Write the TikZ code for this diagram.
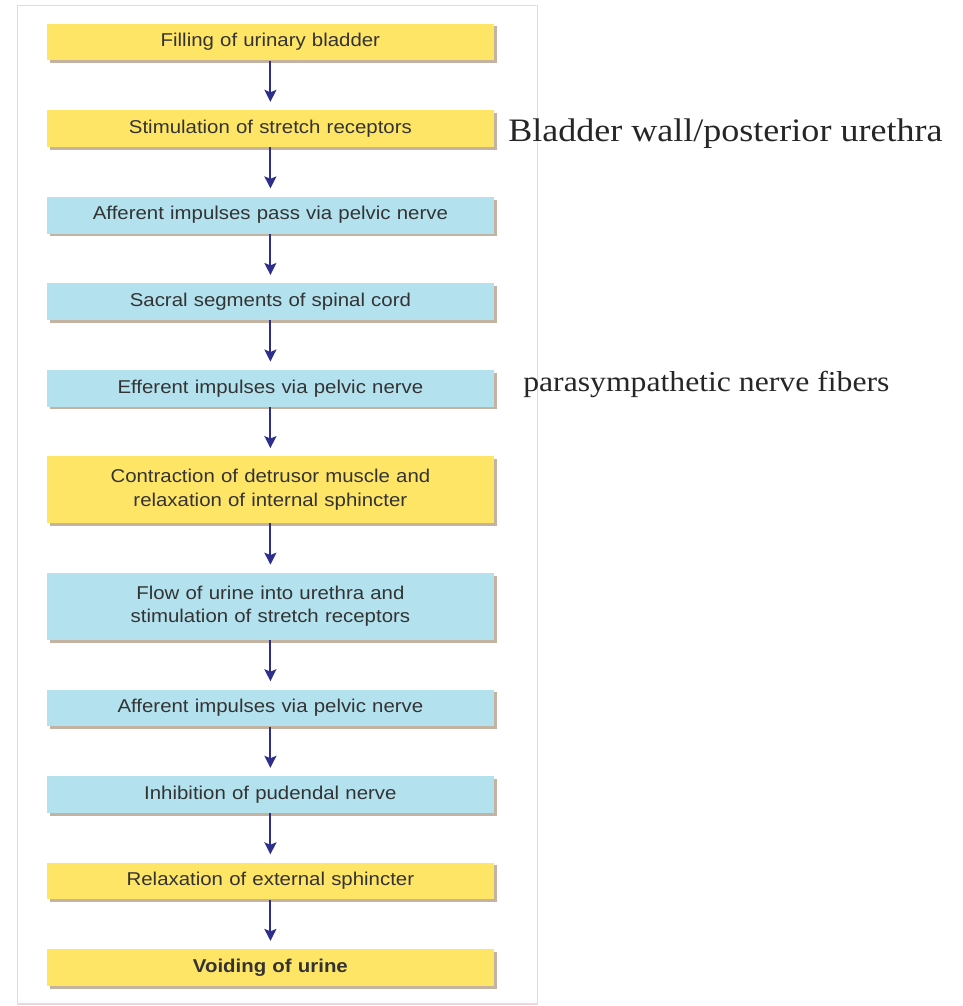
\documentclass[tikz,border=0pt]{standalone}
\usepackage{fontspec}
\setmainfont{Liberation Sans}
\newfontfamily\boxfont[FakeStretch=1.1]{Liberation Sans}
\newfontfamily\notefont[FakeStretch=1.1]{Liberation Serif}
\usetikzlibrary{
  positioning,
  arrows.meta,
  shadows
}
\definecolor{boxyellow}{HTML}{FFE566}
\definecolor{boxblue}{HTML}{B3E2EE}
\definecolor{arrowblue}{HTML}{2E2F8C}
\definecolor{framepink}{HTML}{F0D6DA}
\tikzset{
  node distance=1.23cm,
  stage/.style={minimum width=11.175cm, minimum height=0.92cm, text width=10.6cm,
    align=center, inner sep=0pt, text=black!80,
    font=\boxfont\fontsize{13.2}{16.7}\selectfont,
    drop shadow={shadow xshift=0.07cm, shadow yshift=-0.07cm, fill=brown!45!gray, opacity=0.6}},
  yellowbox/.style={stage, fill=boxyellow},
  bluebox/.style={stage, fill=boxblue},
  tall/.style={minimum height=1.67cm},
  pathway/.style={-{Stealth[length=0.3cm, width=0.3cm, inset=0.06cm]},
    line width=1.4pt, draw=arrowblue, shorten >=0.2cm},
  note/.style={anchor=base west, inner sep=0pt, text=black!85}
}

\begin{document}
\begin{tikzpicture}
    \useasboundingbox (0,0) rectangle (24.05,-25.15);
    \draw[framepink, line width=0.8pt] (0.43,-0.13) rectangle (13.43,-25.1);
    \node[yellowbox] (filling) at (6.76,-1.05) {Filling of urinary bladder};
    \node[yellowbox, below=of filling] (stretch) {Stimulation of stretch receptors};
    \node[bluebox, below=of stretch] (afferent) {Afferent impulses pass via pelvic nerve};
    \node[bluebox, below=of afferent] (sacral) {Sacral segments of spinal cord};
    \node[bluebox, below=of sacral] (efferent) {Efferent impulses via pelvic nerve};
    \node[yellowbox, tall, below=of efferent] (detrusor) {Contraction of detrusor muscle and\\ relaxation of internal sphincter};
    \node[bluebox, tall, below=of detrusor] (urethra) {Flow of urine into urethra and\\ stimulation of stretch receptors};
    \node[bluebox, below=of urethra] (afferent2) {Afferent impulses via pelvic nerve};
    \node[bluebox, below=of afferent2] (pudendal) {Inhibition of pudendal nerve};
    \node[yellowbox, below=of pudendal] (external) {Relaxation of external sphincter};
    \node[yellowbox, below=of external] (voiding) {\bfseries Voiding of urine};
    \draw[pathway] (filling) -- (stretch);
    \draw[pathway] (stretch) -- (afferent);
    \draw[pathway] (afferent) -- (sacral);
    \draw[pathway] (sacral) -- (efferent);
    \draw[pathway] (efferent) -- (detrusor);
    \draw[pathway] (detrusor) -- (urethra);
    \draw[pathway] (urethra) -- (afferent2);
    \draw[pathway] (afferent2) -- (pudendal);
    \draw[pathway] (pudendal) -- (external);
    \draw[pathway] (external) -- (voiding);
    \node[note, font=\notefont\fontsize{23.3}{28}\selectfont] (wall) at (12.7,-3.55) {Bladder wall/posterior urethra};
    \node[note, font=\notefont\fontsize{20.5}{25}\selectfont] (fibers) at (13.075,-9.78) {parasympathetic nerve fibers};
  \end{tikzpicture}
\end{document}
